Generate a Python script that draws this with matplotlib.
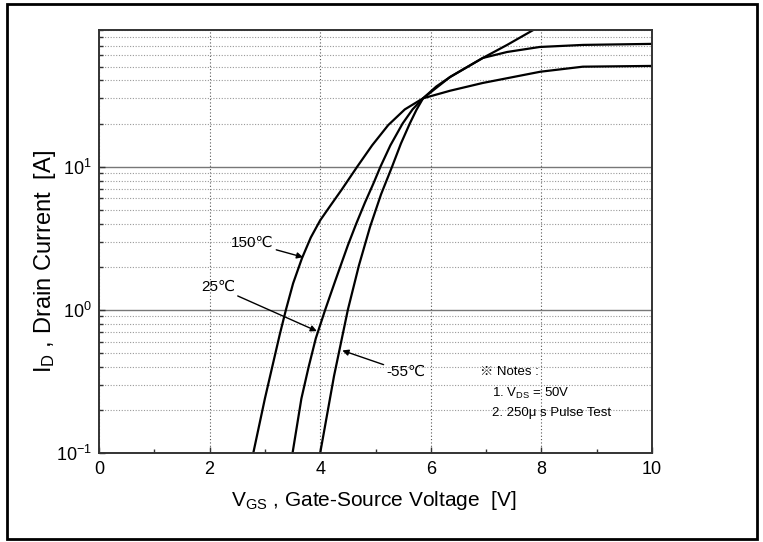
import matplotlib
matplotlib.use("Agg")
import matplotlib.pyplot as plt
from matplotlib.patches import Rectangle
from matplotlib.ticker import FixedLocator, FuncFormatter, NullFormatter
import numpy as np

FONT = ['Liberation Sans', 'DejaVu Sans']
plt.rcParams['font.family'] = FONT
plt.rcParams['mathtext.fontset'] = 'custom'
plt.rcParams['mathtext.rm'] = 'Liberation Sans'
plt.rcParams['mathtext.it'] = 'Liberation Sans'

# ---- data ----
vgs_150 = [2.79, 3.00, 3.15, 3.27, 3.38, 3.51, 3.67, 3.83, 4.00, 4.18, 4.39, 4.67,
           4.94, 5.23, 5.53, 5.86, 6.35, 6.94, 7.98, 8.75, 10.0]
id_150 = [0.10, 0.240, 0.427, 0.676, 1.00, 1.53, 2.29, 3.20, 4.22, 5.31, 6.92, 10.0,
          14.1, 19.5, 25.1, 30.0, 33.9, 38.4, 46.0, 49.9, 50.5]

vgs_25 = [3.50, 3.66, 3.79, 3.92, 4.09, 4.27, 4.50, 4.65, 4.81, 4.96, 5.09, 5.27,
          5.49, 5.67, 5.86, 6.35, 6.94, 7.38, 7.97, 8.75, 10.0]
id_25 = [0.10, 0.240, 0.398, 0.631, 1.00, 1.585, 2.82, 3.98, 5.62, 7.59, 10.0, 14.1,
         20.0, 25.1, 30.0, 42.3, 57.4, 63.2, 68.5, 70.8, 72.0]

vgs_m55 = [4.00, 4.25, 4.50, 4.70, 4.90, 5.10, 5.30, 5.46, 5.62, 5.74, 5.86,
           6.10, 6.35, 6.94, 7.38, 7.97]
id_m55 = [0.10, 0.345, 1.00, 2.04, 3.78, 6.40, 10.0, 14.5, 20.0, 24.9, 30.0,
          36.3, 42.3, 57.4, 70.8, 95.5]

x_ticks = [0, 2, 4, 6, 8, 10]
x_minor = [1, 3, 5, 7, 9]
y_major = [0.1, 1, 10]
y_minor = [m * 10.0 ** e for e in (-1, 0, 1) for m in range(2, 10)]

# ---- figure ----
fig = plt.figure(figsize=(7.63, 5.42), dpi=100)
fig.patches.append(Rectangle((7 / 763, 1 - 539 / 542), 750 / 763, 535 / 542,
                             transform=fig.transFigure, fill=False,
                             edgecolor='black', linewidth=2.0))
ax = fig.add_axes([99 / 763, 1 - 453 / 542, 553 / 763, 423 / 542])

ax.set_yscale('log')
ax.set_xlim(0, 10)
ax.set_ylim(0.1, 90)

for v, i in ((vgs_150, id_150), (vgs_25, id_25), (vgs_m55, id_m55)):
    ax.plot(v, i, color='black', linewidth=1.6, solid_joinstyle='round',
            solid_capstyle='round')

ax.xaxis.set_major_locator(FixedLocator(x_ticks))
ax.xaxis.set_minor_locator(FixedLocator(x_minor))
ax.yaxis.set_major_locator(FixedLocator(y_major))
ax.yaxis.set_minor_locator(FixedLocator(y_minor))
ax.yaxis.set_minor_formatter(NullFormatter())
ax.yaxis.set_major_formatter(FuncFormatter(
    lambda v, p: r'$\mathregular{10^{%d}}$' % int(round(np.log10(v)))))

ax.tick_params(axis='both', which='both', direction='in', color='#333333',
               top=False, right=False)
ax.tick_params(axis='both', which='major', length=4, width=1, labelsize=13)
ax.tick_params(axis='x', which='major', pad=6)
ax.tick_params(axis='y', which='major', pad=5)
ax.tick_params(axis='both', which='minor', length=3, width=1)

ax.grid(True, axis='x', which='major', linestyle=(0, (1, 2)), color='#555555', linewidth=0.8)
ax.grid(True, axis='y', which='major', linestyle='-', color='#777777', linewidth=1.0)
ax.grid(True, axis='y', which='minor', linestyle=(0, (1, 1.5)), color='#999999', linewidth=0.8)

for s in ax.spines.values():
    s.set_color('#333333')
    s.set_linewidth(1.4)

ax.set_xlabel(r'V$_{\mathregular{GS}}$ , Gate-Source Voltage  [V]', fontsize=15)
ax.set_ylabel(r'I$_{\mathregular{D}}$ , Drain Current  [A]', fontsize=17)
ax.xaxis.set_label_coords(0.497, -0.113)
ax.xaxis.label.set_va('center')
ax.yaxis.set_label_coords(-0.098, 0.452)
ax.yaxis.label.set_va('center')
ax.yaxis.label.set_ha('center')

# ---- curve labels with arrows ----
arrow = dict(arrowstyle='-|>', color='black', lw=1.0, mutation_scale=9,
             shrinkA=0, shrinkB=0)
ax.annotate('150\u2103', xy=(3.69, 2.33), xytext=(2.77, 2.92), fontsize=11,
            ha='center', va='center', arrowprops=arrow)
ax.annotate('25\u2103', xy=(3.94, 0.71), xytext=(2.15, 1.44), fontsize=11,
            ha='center', va='center', arrowprops=arrow)
ax.annotate('-55\u2103', xy=(4.40, 0.52), xytext=(5.55, 0.366), fontsize=11,
            ha='center', va='center', arrowprops=arrow)

# ---- notes ----
ax.text(6.89, 0.366, '\u203b Notes :', fontsize=9.5, ha='left', va='center',
        family=['Liberation Sans', 'Noto Sans CJK JP', 'DejaVu Sans'])
ax.text(7.11, 0.26, r'1. V$_{\mathregular{DS}}$ = 50V', fontsize=9.5, ha='left', va='center')
ax.text(7.11, 0.189, '2. 250\u03bc s Pulse Test', fontsize=9.5, ha='left', va='center')

fig.savefig('out.png', dpi=100)
